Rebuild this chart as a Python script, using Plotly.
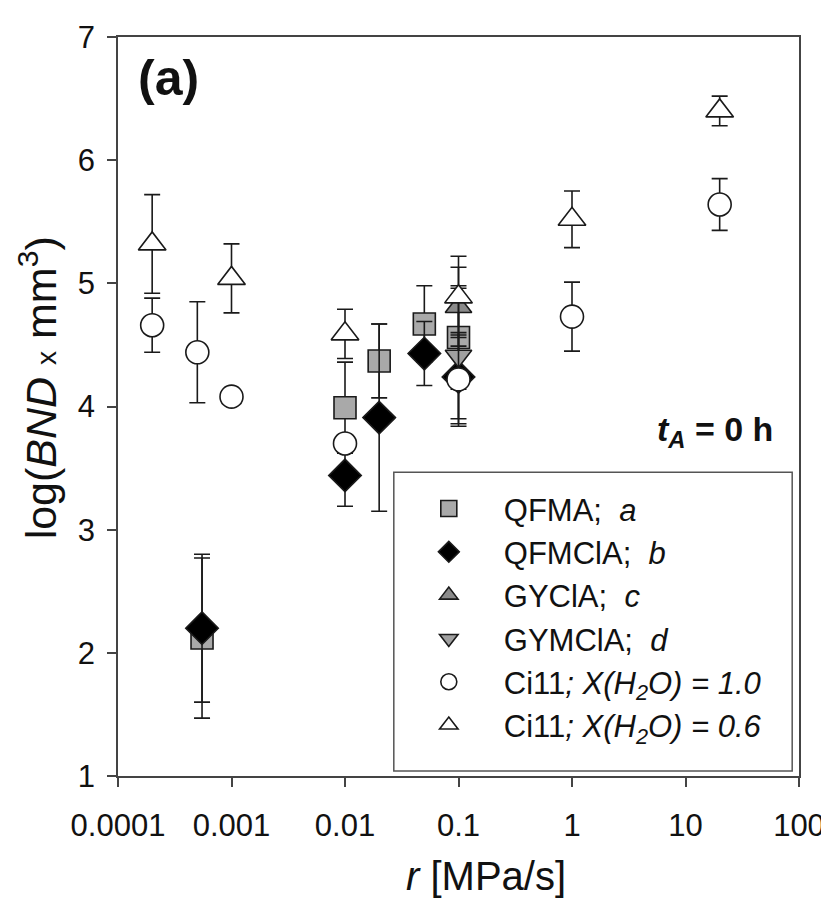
import plotly.graph_objects as go

# ---------------- data ----------------
qfma_x = [0.00055, 0.01, 0.02, 0.05, 0.1]
qfma_y = [2.12, 3.99, 4.37, 4.67, 4.56]
qfma_err = [0.65, 0.37, 0.30, 0.31, 0.42]

qfmcla_x = [0.00055, 0.01, 0.02, 0.05, 0.1]
qfmcla_y = [2.20, 3.44, 3.91, 4.43, 4.24]
qfmcla_err = [0.60, 0.25, 0.76, 0.26, 0.34]

gycla_x = [0.1]
gycla_y = [4.81]
gycla_err = [0.32]

gymcla_x = [0.1]
gymcla_y = [4.41]
gymcla_err = [0.55]

ci11_10_x = [0.0002, 0.0005, 0.001, 0.01, 0.1, 1, 20]
ci11_10_y = [4.66, 4.44, 4.08, 3.70, 4.22, 4.73, 5.64]
ci11_10_err = [0.22, 0.41, 0.0, 0.0, 0.38, 0.28, 0.21]

ci11_06_x = [0.0002, 0.001, 0.01, 0.1, 1, 20]
ci11_06_y = [5.32, 5.04, 4.59, 4.89, 5.52, 6.40]
ci11_06_err = [0.40, 0.28, 0.20, 0.33, 0.23, 0.12]

x_tickvals = [0.0001, 0.001, 0.01, 0.1, 1, 10, 100]
x_ticktext = ["0.0001", "0.001", "0.01", "0.1", "1", "10", "100"]
y_tickvals = [1, 2, 3, 4, 5, 6, 7]

FONT = "Liberation Sans, Arial, sans-serif"
LINE = "#1a1a1a"
AXC = "#444"

series = [
    ("QFMA;  <i>a</i>", qfma_x, qfma_y, qfma_err, "square", "#a9a9a9", 22),
    ("QFMClA;  <i>b</i>", qfmcla_x, qfmcla_y, qfmcla_err, "diamond", "#000000", 25),
    ("GYClA;  <i>c</i>", gycla_x, gycla_y, gycla_err, "triangle-up", "#8a8a8a", 23),
    ("GYMClA;  <i>d</i>", gymcla_x, gymcla_y, gymcla_err, "triangle-down", "#a0a0a0", 23),
    ("Ci11<i>; X(H<sub>2</sub>O) = 1.0</i>", ci11_10_x, ci11_10_y, ci11_10_err, "circle", "#ffffff", 23),
    ("Ci11<i>; X(H<sub>2</sub>O) = 0.6</i>", ci11_06_x, ci11_06_y, ci11_06_err, "triangle-up", "#ffffff", 24),
]

fig = go.Figure()
for name, xs, ys, es, sym, fill, size in series:
    fig.add_trace(go.Scatter(
        x=xs, y=ys, mode="markers", name=name,
        marker=dict(symbol=sym, size=size, color=fill,
                    line=dict(color=LINE, width=1.6)),
        error_y=dict(type="data", array=es, visible=True,
                     color=LINE, thickness=1.6, width=8),
    ))

fig.update_layout(
    width=829, height=908,
    margin=dict(l=110, r=38, t=14, b=140),
    paper_bgcolor="white", plot_bgcolor="white",
    font=dict(family=FONT, size=31, color="#111"),
    showlegend=True,
    legend=dict(
        x=0.405, y=0.398, xanchor="left", yanchor="top",
        bgcolor="rgba(0,0,0,0)", borderwidth=0,
        font=dict(family=FONT, size=31, color="#111"),
        itemsizing="trace", itemwidth=100, tracegroupgap=0,
    ),
    shapes=[
        dict(type="rect", xref="paper", yref="paper",
             x0=0.405, x1=0.990, y0=0.0066, y1=0.411,
             line=dict(color="#555", width=1.5), fillcolor="white",
             layer="below"),
    ],
    xaxis=dict(
        type="log", range=[-4, 2],
        tickvals=x_tickvals, ticktext=x_ticktext,
        ticks="outside", ticklen=9, tickwidth=1.5, tickcolor=AXC,
        ticklabelstandoff=12, ticklabeloverflow="allow",
        showline=True, linecolor=AXC, linewidth=1.5, mirror=True,
        showgrid=False, zeroline=False,
        tickfont=dict(family=FONT, size=31),
    ),
    yaxis=dict(
        range=[1, 7], tickvals=y_tickvals,
        ticks="outside", ticklen=9, tickwidth=1.5, tickcolor=AXC,
        ticklabelstandoff=6, ticklabeloverflow="allow",
        showline=True, linecolor=AXC, linewidth=1.5, mirror=True,
        showgrid=False, zeroline=False,
        tickfont=dict(family=FONT, size=31),
    ),
    annotations=[
        dict(text="<b>(a)</b>", x=0.026, y=0.945, xref="paper", yref="paper",
             xanchor="left", yanchor="middle", showarrow=False,
             font=dict(family=FONT, size=50, color="#111")),
        dict(text="<b><i>t</i><sub><i>A</i></sub> = 0 h</b>", x=0.965, y=0.466,
             xref="paper", yref="paper", xanchor="right", yanchor="middle",
             showarrow=False, font=dict(family=FONT, size=34, color="#111")),
        dict(text="<i>r</i> [MPa/s]", x=0.54, y=-0.135, xref="paper", yref="paper",
             xanchor="center", yanchor="middle", showarrow=False,
             font=dict(family=FONT, size=40, color="#111")),
        dict(text="log(<i>BND</i> <span style='font-size:28px'>x</span> mm<sup>3</sup>)",
             x=-0.117, y=0.525, xref="paper", yref="paper", textangle=-90,
             xanchor="center", yanchor="middle", showarrow=False,
             font=dict(family=FONT, size=43, color="#111")),
    ],
)

fig.write_html("out.html")
